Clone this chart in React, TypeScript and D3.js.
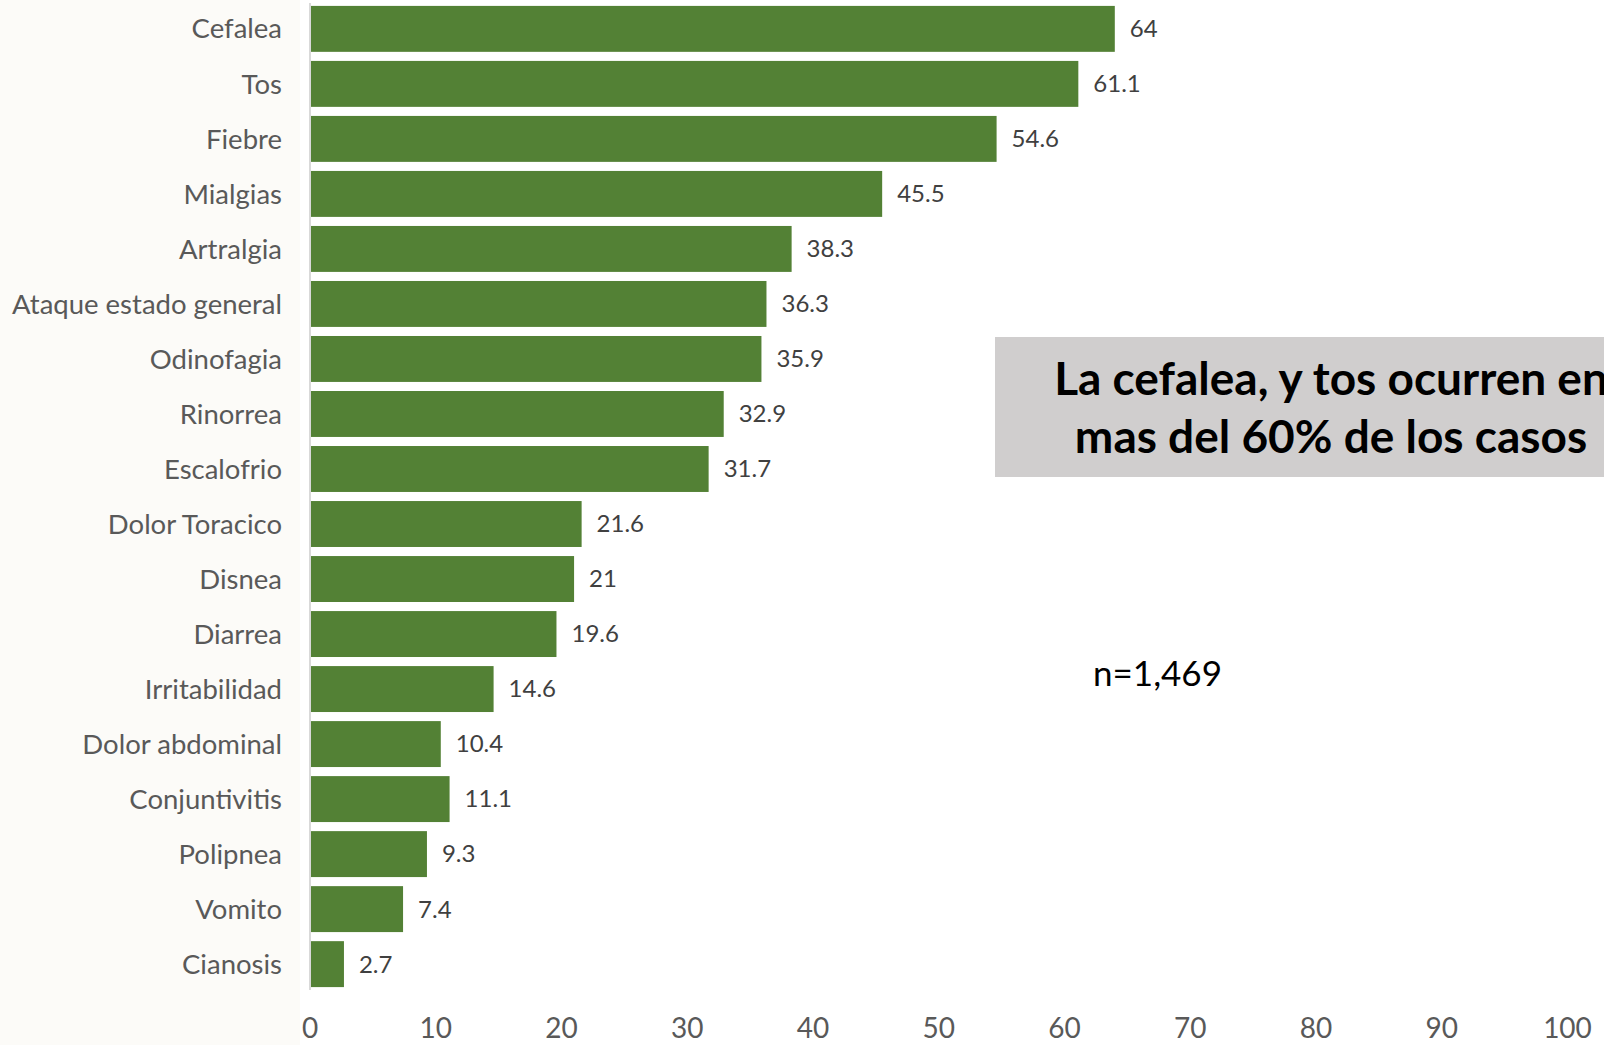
import React from "react";
import * as d3 from "d3";

const categories = [
  "Cefalea", "Tos", "Fiebre", "Mialgias", "Artralgia", "Ataque estado general",
  "Odinofagia", "Rinorrea", "Escalofrio", "Dolor Toracico", "Disnea", "Diarrea",
  "Irritabilidad", "Dolor abdominal", "Conjuntivitis", "Polipnea", "Vomito", "Cianosis",
];
const values = [64, 61.1, 54.6, 45.5, 38.3, 36.3, 35.9, 32.9, 31.7, 21.6, 21, 19.6, 14.6, 10.4, 11.1, 9.3, 7.4, 2.7];
const xTicks = [0, 10, 20, 30, 40, 50, 60, 70, 80, 90, 100];
const calloutLines = ["La cefalea, y tos ocurren en", "mas del 60% de los casos"];
const noteText = "n=1,469";

const W = 1604;
const H = 1045;
const FONT = "Lato, 'Open Sans', sans-serif";

export default function App() {
  const x = d3.scaleLinear().domain([0, 100]).range([310, 1567.5]);
  const y = d3.scaleBand<string>().domain(categories).range([1.5, 991.5]).paddingInner(0.165).paddingOuter(0.08);
  const bw = y.bandwidth();

  return (
    <svg width={W} height={H} style={{ position: "absolute", left: 0, top: 0, background: "#ffffff" }}>
      <rect x={0} y={0} width={W} height={H} fill="#ffffff" />
      {/* faint watermark region */}
      <rect x={0} y={0} width={300} height={H} fill="#fcfbf8" />
      {categories.map((c, i) => {
        const yy = y(c)!;
        const v = values[i];
        return (
          <g key={c}>
            <rect x={x(0)} y={yy} width={x(v) - x(0)} height={bw} fill="#538135" />
            <text x={282} y={yy + bw / 2} dy="0.35em" textAnchor="end" fontFamily={FONT} fontSize={27.5} fill="#595959">
              {c}
            </text>
            <text x={x(v) + 15} y={yy + bw / 2} dy="0.35em" textAnchor="start" fontFamily={FONT} fontSize={24} fill="#404040">
              {String(v)}
            </text>
          </g>
        );
      })}
      <line x1={x(0)} x2={x(0)} y1={3} y2={990} stroke="#d9d9d9" strokeWidth={2} />
      {xTicks.map((t) => (
        <text key={t} x={x(t)} y={1038} textAnchor="middle" fontFamily={FONT} fontSize={28} fill="#595959">
          {t}
        </text>
      ))}
      <rect x={995} y={337} width={700} height={140} fill="#d0cece" />
      {calloutLines.map((l, i) => (
        <text key={i} x={1331} y={395 + i * 58} textAnchor="middle" fontFamily={FONT} fontWeight={700} fontSize={46} fill="#000000">
          {l}
        </text>
      ))}
      <text x={1093} y={686} fontFamily={FONT} fontSize={35} fill="#000000">
        {noteText}
      </text>
    </svg>
  );
}
